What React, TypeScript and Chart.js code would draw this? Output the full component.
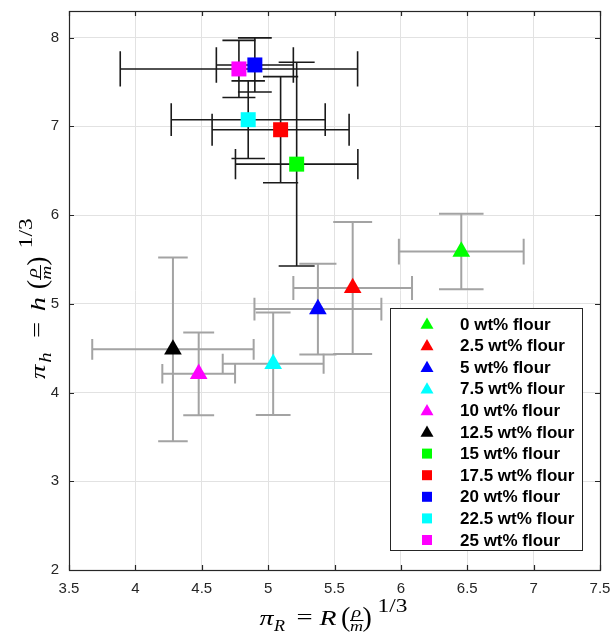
import React, { useEffect, useRef } from 'react';
import { Chart, registerables } from 'chart.js';

Chart.register(...registerables);

// ---- data ----
const seriesLabels = [
  '0 wt% flour', '2.5 wt% flour', '5 wt% flour', '7.5 wt% flour', '10 wt% flour',
  '12.5 wt% flour', '15 wt% flour', '17.5 wt% flour', '20 wt% flour', '22.5 wt% flour', '25 wt% flour',
];
const piR = [6.455, 5.637, 5.375, 5.038, 4.477, 4.283, 5.215, 5.094, 4.9, 4.85, 4.78];
const piH = [5.589, 5.178, 4.941, 4.324, 4.211, 4.487, 6.574, 6.962, 7.692, 7.075, 7.647];
const piRErr = [0.47, 0.447, 0.478, 0.38, 0.274, 0.608, 0.461, 0.516, 0.29, 0.58, 0.894];
const piHErr = [0.425, 0.745, 0.511, 0.578, 0.466, 1.035, 1.148, 0.598, 0.305, 0.438, 0.322];
const markerColors = [
  '#00ff00', '#ff0000', '#0000ff', '#00ffff', '#ff00ff', '#000000',
  '#00ff00', '#ff0000', '#0000ff', '#00ffff', '#ff00ff',
];
const markerShapes = [
  'triangle', 'triangle', 'triangle', 'triangle', 'triangle', 'triangle',
  'rect', 'rect', 'rect', 'rect', 'rect',
];
const xRange = [3.5, 7.5];
const yRange = [2, 8.3];
const xStep = 0.5;
const yStep = 1;

// ---- style constants ----
const CAP = 0.026;
const AXIS_COLOR = '#262626';
const SANS = '"Liberation Sans", Arial, Helvetica, sans-serif';
const SERIF = '"Liberation Serif", "Times New Roman", serif';

function drawMarker(ctx: CanvasRenderingContext2D, shape: string, x: number, y: number, r: number, color: string) {
  ctx.fillStyle = color;
  ctx.beginPath();
  if (shape === 'triangle') {
    let rad = 0;
    ctx.moveTo(x + Math.sin(rad) * r, y - Math.cos(rad) * r);
    rad += (2 * Math.PI) / 3;
    ctx.lineTo(x + Math.sin(rad) * r, y - Math.cos(rad) * r);
    rad += (2 * Math.PI) / 3;
    ctx.lineTo(x + Math.sin(rad) * r, y - Math.cos(rad) * r);
    ctx.closePath();
  } else {
    ctx.rect(x - r, y - r, 2 * r, 2 * r);
  }
  ctx.fill();
}

// draws a LaTeX-like title  pi_sub = rhs (rho/m)^(1/3), starting at (0,0) baseline
function mathTitle(ctx: CanvasRenderingContext2D, sub: string, rhs: string, k: number) {
  const piece = (text: string, font: string, left: number, width: number, dy: number) => {
    ctx.font = font;
    const w = ctx.measureText(text).width;
    const s = Math.min(1.3, Math.max(1, (width * k) / w));
    ctx.save();
    ctx.translate(left * k + (width * k - w * s) / 2, dy);
    ctx.scale(s, 1);
    ctx.fillText(text, 0, 0);
    ctx.restore();
  };
  piece('π', `italic 22px ${SERIF}`, 0, 14, 0);
  piece(sub, `italic 16px ${SERIF}`, 14.5, 11, 6);
  piece('=', `22px ${SERIF}`, 36, 18, -1);
  piece(rhs, `italic 22px ${SERIF}`, 60, 17, 0);
  piece('(', `28px ${SERIF}`, 82.5, 7.5, 1);
  piece('ρ', `italic 15px ${SERIF}`, 91.5, 11, -8);
  piece('m', `italic 15px ${SERIF}`, 90.5, 13, 6);
  ctx.fillRect(90.5 * k, -5, 13.5 * k, 1);
  piece(')', `28px ${SERIF}`, 104, 7.5, 1);
  piece('1/3', `18px ${SERIF}`, 118, 30, -13);
}
const TITLE_W = 150;

const decorPlugin = {
  id: 'decor',
  beforeDatasetsDraw(chart: any) {
    const { ctx, scales } = chart;
    const xs = scales.x;
    const ys = scales.y;
    ctx.save();
    ctx.lineCap = 'butt';
    piR.forEach((xv, i) => {
      const yv = piH[i];
      const tri = markerShapes[i] === 'triangle';
      ctx.strokeStyle = tri ? '#a3a3a3' : '#1a1a1a';
      ctx.lineWidth = tri ? 2 : 1.6;
      const px = xs.getPixelForValue(xv);
      const py = ys.getPixelForValue(yv);
      const xl = xs.getPixelForValue(xv - piRErr[i]);
      const xr = xs.getPixelForValue(xv + piRErr[i]);
      const yt = ys.getPixelForValue(yv + piHErr[i]);
      const yb = ys.getPixelForValue(yv - piHErr[i]);
      const capW = Math.abs(xs.getPixelForValue(xv * (1 + CAP)) - px);
      const capH = Math.abs(ys.getPixelForValue(yv * (1 + CAP)) - py);
      ctx.beginPath();
      ctx.moveTo(px, yt); ctx.lineTo(px, yb);
      ctx.moveTo(px - capW, yt); ctx.lineTo(px + capW, yt);
      ctx.moveTo(px - capW, yb); ctx.lineTo(px + capW, yb);
      ctx.moveTo(xl, py); ctx.lineTo(xr, py);
      ctx.moveTo(xl, py - capH); ctx.lineTo(xl, py + capH);
      ctx.moveTo(xr, py - capH); ctx.lineTo(xr, py + capH);
      ctx.stroke();
    });
    ctx.restore();
  },
  afterDraw(chart: any) {
    const { ctx, chartArea: a, scales } = chart;
    const xs = scales.x;
    const ys = scales.y;
    ctx.save();
    // frame
    ctx.strokeStyle = AXIS_COLOR;
    ctx.lineWidth = 1.2;
    ctx.strokeRect(Math.round(a.left) + 0.5, Math.round(a.top) + 0.5, Math.round(a.right - a.left), Math.round(a.bottom - a.top));
    ctx.beginPath();
    const tl = 5;
    xs.ticks.forEach((t: any) => {
      const p = Math.round(xs.getPixelForValue(t.value)) + 0.5;
      ctx.moveTo(p, a.bottom); ctx.lineTo(p, a.bottom - tl);
      ctx.moveTo(p, a.top); ctx.lineTo(p, a.top + tl);
    });
    ys.ticks.forEach((t: any) => {
      const p = Math.round(ys.getPixelForValue(t.value)) + 0.5;
      ctx.moveTo(a.left, p); ctx.lineTo(a.left + tl, p);
      ctx.moveTo(a.right, p); ctx.lineTo(a.right - tl, p);
    });
    ctx.stroke();

    // legend
    const lw = 192;
    const lh = 242;
    const lx = Math.round(a.right) - 210;
    const ly = Math.round(a.bottom) - 262;
    ctx.fillStyle = '#ffffff';
    ctx.fillRect(lx, ly, lw, lh);
    ctx.strokeStyle = AXIS_COLOR;
    ctx.lineWidth = 1;
    ctx.strokeRect(lx + 0.5, ly + 0.5, lw, lh);
    chart.data.datasets.forEach((ds: any, i: number) => {
      const cy = ly + 16 + i * 21.6;
      const shape = markerShapes[i];
      if (shape === 'triangle') drawMarker(ctx, shape, lx + 37, cy + 1, 7.5, markerColors[i]);
      else drawMarker(ctx, shape, lx + 37, cy, 5, markerColors[i]);
      ctx.fillStyle = '#000000';
      ctx.font = `bold 17px ${SANS}`;
      ctx.textBaseline = 'middle';
      ctx.textAlign = 'left';
      ctx.fillText(ds.label, lx + 70, cy + 1);
    });

    // axis titles
    ctx.fillStyle = '#000000';
    ctx.textBaseline = 'alphabetic';
    ctx.textAlign = 'left';
    ctx.save();
    ctx.translate((a.left + a.right) / 2 - TITLE_W / 2, 625);
    mathTitle(ctx, 'R', 'R', 1);
    ctx.restore();
    const ky = 1.1;
    ctx.save();
    ctx.translate(45, 297 + (TITLE_W * ky) / 2);
    ctx.rotate(-Math.PI / 2);
    mathTitle(ctx, 'h', 'h', ky);
    ctx.restore();
    ctx.restore();
  },
};

export default function App() {
  const ref = useRef<HTMLCanvasElement>(null);
  useEffect(() => {
    if (!ref.current) return;
    const datasets = seriesLabels.map((label, i) => ({
      label,
      data: [{ x: piR[i], y: piH[i] }],
      pointStyle: markerShapes[i],
      pointRadius: markerShapes[i] === 'triangle' ? 10.2 : 10.6,
      backgroundColor: markerColors[i],
      borderColor: markerColors[i],
      borderWidth: 0,
    }));
    const tickFont = { family: SANS, size: 15 };
    const chart = new Chart(ref.current, {
      type: 'scatter',
      data: { datasets } as any,
      options: {
        animation: false,
        responsive: false,
        devicePixelRatio: 1,
        layout: { padding: { top: 11, right: 11, left: 0, bottom: 0 } },
        plugins: { legend: { display: false }, tooltip: { enabled: false } },
        scales: {
          x: {
            type: 'linear',
            min: xRange[0],
            max: xRange[1],
            ticks: {
              stepSize: xStep, font: tickFont, color: AXIS_COLOR, padding: 10, includeBounds: false,
              callback: (v: any) => String(Number(v)),
            },
            grid: { color: '#e2e2e2', lineWidth: 1, drawTicks: false },
            border: { display: false },
            afterFit: (s: any) => { s.height = 64; s.paddingLeft = 0; s.paddingRight = 0; },
          },
          y: {
            type: 'linear',
            min: yRange[0],
            max: yRange[1],
            ticks: {
              stepSize: yStep, font: tickFont, color: AXIS_COLOR, padding: 10, includeBounds: false,
              callback: (v: any) => String(Number(v)),
            },
            grid: { color: '#e2e2e2', lineWidth: 1, drawTicks: false },
            border: { display: false },
            afterFit: (s: any) => { s.width = 69; s.paddingTop = 0; s.paddingBottom = 0; },
          },
        },
      } as any,
      plugins: [decorPlugin],
    });
    return () => chart.destroy();
  }, []);
  return (
    <div style={{ position: 'fixed', left: 0, top: 0, width: 611, height: 634, background: '#ffffff' }}>
      <canvas ref={ref} width={611} height={634} style={{ display: 'block' }} />
    </div>
  );
}
